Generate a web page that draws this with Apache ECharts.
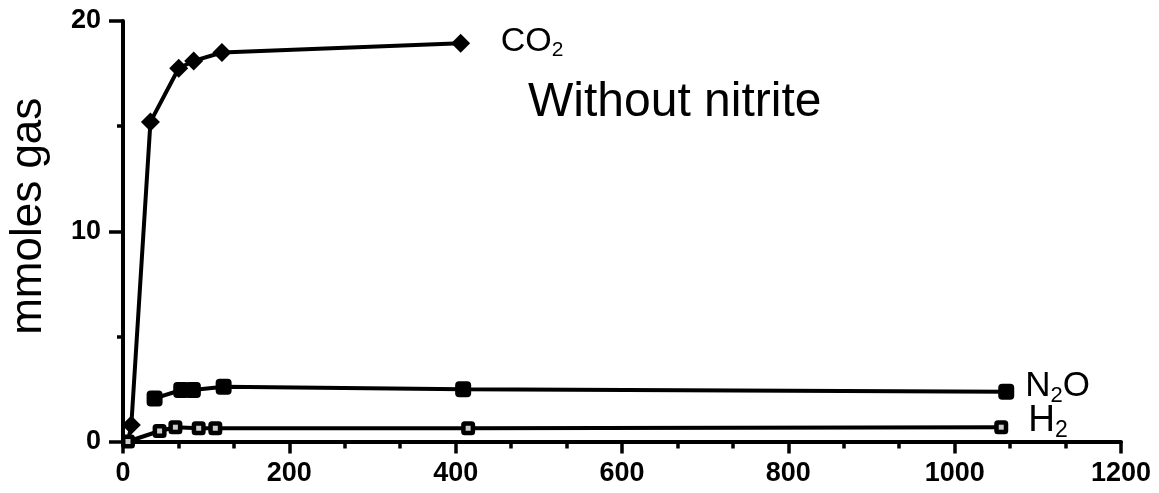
<!DOCTYPE html>
<html>
<head>
<meta charset="utf-8">
<script src="https://cdn.jsdelivr.net/npm/echarts@6/dist/echarts.min.js"></script>
<style>
  html, body { margin: 0; padding: 0; background: #fff; }
  #chart { width: 1159px; height: 493px; }
</style>
</head>
<body>
<div id="chart"></div>
<script>
// Elapsed time (x) and accumulated gas (mmoles) for each gas
const co2Time   = [6, 10, 33, 67, 85, 119, 406];
const co2Values = [0, 0.78, 15.2, 17.75, 18.1, 18.5, 18.94];

const n2oTime   = [38, 70, 84, 121, 409, 1062];
const n2oValues = [2.05, 2.45, 2.45, 2.6, 2.48, 2.37];

const h2Time    = [6, 44, 63, 91, 111, 415, 1056];
const h2Values  = [0, 0.5, 0.68, 0.63, 0.63, 0.63, 0.68];

// Axis ticks
const xTickValues = [0, 200, 400, 600, 800, 1000, 1200];
const yTickValues = [0, 10, 20];

const titleText = 'Without nitrite';
const yAxisTitle = 'mmoles gas';

const FONT = '"Liberation Sans", Arial, Helvetica, sans-serif';
const INK = '#000';
const LINE_W = 4;

function pairs(xs, ys) {
  return xs.map((x, i) => [x, ys[i]]);
}

// CO2 curve starts from the origin without a marker there
const co2Data = pairs(co2Time, co2Values).map((p, i) =>
  i === 0 ? { value: p, symbol: 'none' } : p);

function gasLabel(main, sub, tail, size, distance, offset) {
  return {
    show: true,
    formatter: '{m|' + main + '}{s|' + sub + '}' + (tail ? '{m|' + tail + '}' : ''),
    distance: distance,
    offset: offset,
    rich: {
      m: { fontSize: size, fontFamily: FONT, color: INK, lineHeight: size + 6 },
      s: { fontSize: Math.round(size * 0.62), fontFamily: FONT, color: INK, padding: [Math.round(size * 0.5), 0, 0, 0] }
    }
  };
}

const chart = echarts.init(document.getElementById('chart'), null, { renderer: 'canvas' });

chart.setOption({
  animation: false,
  backgroundColor: '#fff',
  title: {
    text: titleText,
    left: 523,
    top: 74,
    textStyle: { fontFamily: FONT, fontSize: 48, fontWeight: 'normal', color: INK }
  },
  grid: { left: 123, right: 38, top: 21, bottom: 51.5, containLabel: false, outerBoundsMode: 'none' },
  xAxis: {
    type: 'value',
    min: xTickValues[0],
    max: xTickValues[xTickValues.length - 1],
    interval: xTickValues[1] - xTickValues[0],
    splitLine: { show: false },
    axisLine: { show: true, onZero: false, lineStyle: { color: INK, width: LINE_W } },
    axisTick: { show: true, length: 12, lineStyle: { color: INK, width: 3.5 } },
    minorTick: { show: true, splitNumber: 3, length: 7, lineStyle: { color: INK, width: 3.5 } },
    axisLabel: {
      margin: 19, fontFamily: FONT, fontSize: 27, fontWeight: 'bold', color: INK,
      formatter: v => String(v)
    }
  },
  yAxis: {
    type: 'value',
    min: yTickValues[0],
    max: yTickValues[yTickValues.length - 1],
    interval: yTickValues[1] - yTickValues[0],
    name: yAxisTitle,
    nameLocation: 'middle',
    nameGap: 72,
    nameTextStyle: { fontFamily: FONT, fontSize: 44, color: INK, padding: [0, 0, 0, 30] },
    splitLine: { show: false },
    axisLine: { show: true, onZero: false, lineStyle: { color: INK, width: LINE_W } },
    axisTick: { show: true, length: 14, lineStyle: { color: INK, width: 3.5 } },
    minorTick: { show: true, splitNumber: 2, length: 6, lineStyle: { color: INK, width: 3.5 } },
    axisLabel: {
      margin: 22, fontFamily: FONT, fontSize: 27, fontWeight: 'bold', color: INK,
      formatter: v => String(v)
    }
  },
  series: [
    {
      name: 'CO2',
      type: 'line',
      data: co2Data,
      symbol: 'diamond',
      symbolSize: 19,
      lineStyle: { color: INK, width: LINE_W },
      itemStyle: { color: INK },
      z: 3,
      endLabel: gasLabel('CO', '2', '', 34, 40, [0, -2])
    },
    {
      name: 'N2O',
      type: 'line',
      data: pairs(n2oTime, n2oValues),
      symbol: 'roundRect',
      symbolSize: 16,
      lineStyle: { color: INK, width: LINE_W },
      itemStyle: { color: INK },
      z: 3,
      endLabel: gasLabel('N', '2', 'O', 35, 19, [0, -5])
    },
    {
      name: 'H2',
      type: 'line',
      data: pairs(h2Time, h2Values),
      symbol: 'roundRect',
      symbolSize: 14,
      lineStyle: { color: INK, width: LINE_W },
      itemStyle: { color: INK },
      z: 3,
      endLabel: gasLabel('H', '2', '', 37, 27, [0, -6])
    },
    {
      // open centre of the H2 markers
      name: 'H2 centre',
      type: 'scatter',
      data: pairs(h2Time, h2Values),
      symbol: 'rect',
      symbolSize: 5,
      itemStyle: { color: '#fff' },
      z: 4,
      silent: true
    }
  ]
});
</script>
</body>
</html>
